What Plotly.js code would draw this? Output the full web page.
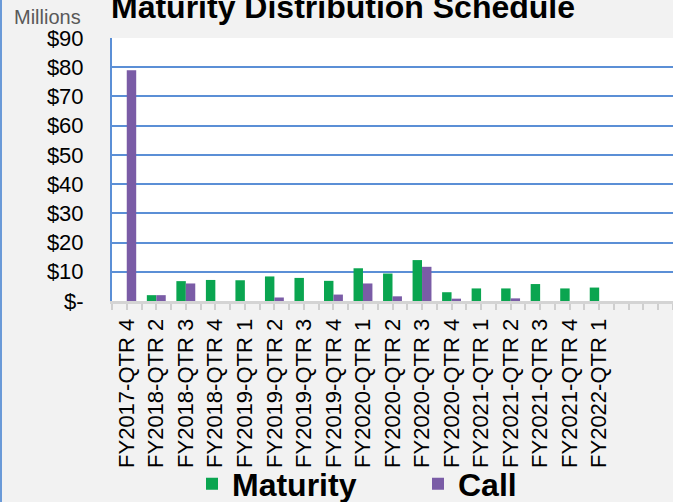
<!DOCTYPE html>
<html>
<head>
<meta charset="utf-8">
<script src="https://cdn.plot.ly/plotly-3.0.1.min.js"></script>
<style>
html,body{margin:0;padding:0;background:#f2f2f2;}
#chart{width:673px;height:502px;}
</style>
</head>
<body>
<div id="chart"></div>
<script>
var categories = ["FY2017-QTR 4","FY2018-QTR 2","FY2018-QTR 3","FY2018-QTR 4","FY2019-QTR 1","FY2019-QTR 2","FY2019-QTR 3","FY2019-QTR 4","FY2020-QTR 1","FY2020-QTR 2","FY2020-QTR 3","FY2020-QTR 4","FY2021-QTR 1","FY2021-QTR 2","FY2021-QTR 3","FY2021-QTR 4","FY2022-QTR 1"];
var maturity = [0, 2, 6.8, 7.2, 7.1, 8.4, 7.9, 6.9, 11.2, 9.4, 14, 3, 4.3, 4.3, 5.8, 4.3, 4.6];
var call = [79, 2, 6, 0, 0, 1.2, 0, 2.2, 6, 1.6, 11.7, 0.8, 0, 0.9, 0, 0, 0];
var yTickVals = [0,10,20,30,40,50,60,70,80,90];
var yTickText = ["$-","$10","$20","$30","$40","$50","$60","$70","$80","$90"];
var emptySlots = 2;

var W = 673, H = 502;
var mL = 112, mR = 0, mT = 38, mB = 201;
var pos = categories.map(function(c, i){ return i; });
var tickVals = [], tickText = [];
for (var i = 0; i < categories.length + emptySlots; i++) {
  tickVals.push(i);
  tickText.push(i < categories.length ? categories[i] : "");
}
var FONT = "Liberation Sans, Arial, sans-serif";
var gridBlue = "#5b8fd6";

var traces = [
  {type:"bar", name:"Maturity", x:pos, y:maturity,
   marker:{color:"#0aa550", line:{width:0}}},
  {type:"bar", name:"Call", x:pos, y:call,
   marker:{color:"#7a5ca6", line:{width:0}}}
];

var layout = {
  width:W, height:H,
  paper_bgcolor:"#f2f2f2", plot_bgcolor:"#ffffff",
  margin:{l:mL, r:mR, t:mT, b:mB, pad:0},
  barmode:"group", bargap:0.36, bargroupgap:0,
  showlegend:true,
  title:{text:"<b>Maturity Distribution Schedule</b>", font:{family:FONT, size:32, color:"#000"},
         x:343/W, xref:"container", xanchor:"center", y:1-7/H, yref:"container", yanchor:"middle"},
  xaxis:{range:[-0.5, categories.length + emptySlots - 0.5], tickmode:"array", tickvals:tickVals, ticktext:tickText,
         tickangle:-90, tickfont:{family:FONT, size:22, color:"#000"},
         ticks:"outside", ticklen:6, tickwidth:2, tickcolor:"#cfcfcf",
         minor:{tickmode:"linear", tick0:0.5, dtick:1, ticks:"outside", ticklen:6, tickwidth:2, tickcolor:"#cfcfcf"},
         showgrid:false, zeroline:false, showline:true, linecolor:"#d4d4d4", linewidth:3, fixedrange:true},
  yaxis:{range:[0,90], tickmode:"array", tickvals:yTickVals, ticktext:yTickText,
         tickfont:{family:FONT, size:22, color:"#000"}, ticks:"", ticklabelstandoff:22,
         showgrid:true, gridcolor:gridBlue, gridwidth:2, zeroline:false,
         showline:true, linecolor:gridBlue, linewidth:2, mirror:false, fixedrange:true},
  legend:{orientation:"h", x:192/W, xref:"container", xanchor:"left", y:1-484/H, yref:"container", yanchor:"middle",
          font:{family:FONT, size:32, color:"#000", weight:"bold"}, entrywidth:181, entrywidthmode:"pixels",
          bgcolor:"rgba(0,0,0,0)"},
  annotations:[
    {text:"Millions", xref:"paper", yref:"paper", x:-65/ (W-mL-mR) , y:1 + 21.5/(H-mT-mB), xanchor:"center", yanchor:"middle",
     showarrow:false, font:{family:FONT, size:20, color:"#595959"}}
  ],
  shapes:[
    {type:"line", xref:"paper", yref:"paper", x0:-(mL-1)/(W-mL-mR), x1:-(mL-1)/(W-mL-mR), y0:-mB/(H-mT-mB), y1:1+mT/(H-mT-mB),
     line:{color:"#6a9ad8", width:2}}
  ]
};

Plotly.newPlot("chart", traces, layout, {displayModeBar:false, staticPlot:true});
</script>
</body>
</html>
